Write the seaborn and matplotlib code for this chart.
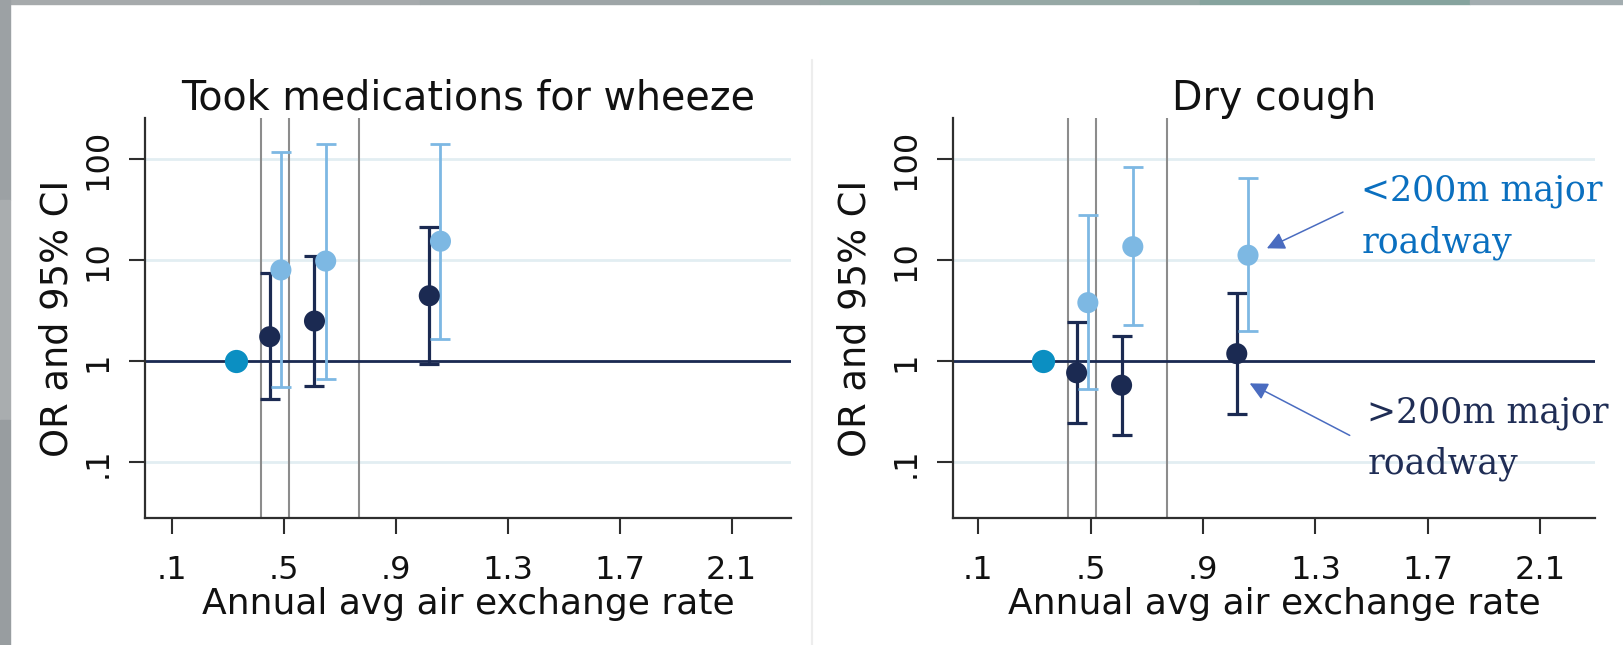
import matplotlib
matplotlib.use("Agg")
import matplotlib.pyplot as plt
from matplotlib.patches import Rectangle
from matplotlib.lines import Line2D
from matplotlib.ticker import NullLocator
import numpy as np
import pandas as pd
import seaborn as sns

# Air exchange rate groups (x positions) and reference-group position
x_reference = 0.33
cut_points = [0.42, 0.52, 0.77]
x_far = [0.45, 0.61, 1.02]
x_near = [0.49, 0.65, 1.06]

# Took medications for wheeze: odds ratios and 95% CI
wheeze_far_or = [1.75, 2.5, 4.45]
wheeze_far_lo = [0.42, 0.57, 0.93]
wheeze_far_hi = [7.5, 11.0, 21.4]
wheeze_near_or = [8.0, 9.8, 15.4]
wheeze_near_lo = [0.56, 0.67, 1.68]
wheeze_near_hi = [118.0, 140.0, 140.0]

# Dry cough: odds ratios and 95% CI
cough_far_or = [0.77, 0.58, 1.19]
cough_far_lo = [0.245, 0.185, 0.30]
cough_far_hi = [2.45, 1.78, 4.7]
cough_near_or = [3.8, 13.6, 11.2]
cough_near_lo = [0.53, 2.27, 2.0]
cough_near_hi = [27.9, 82.6, 64.4]

x_tick_values = [0.1, 0.5, 0.9, 1.3, 1.7, 2.1]
x_tick_labels = [".1", ".5", ".9", "1.3", "1.7", "2.1"]
y_tick_values = [0.1, 1, 10, 100]
y_tick_labels = [".1", "1", "10", "100"]

panel_titles = ["Took medications for wheeze", "Dry cough"]
x_title = "Annual avg air exchange rate"
y_title = "OR and 95% CI"

DARK = "#1b2a52"
LIGHT = "#7db8e3"
REF = "#0b8fc2"
GRID = "#e2eef2"
CUT = "#8c8c8c"
AXIS = "#2e2e2e"

sns.set_theme(style="white")
plt.rcParams["font.family"] = ["DejaVu Sans"]

W, H = 1624, 645
fig = plt.figure(figsize=(W / 100, H / 100), dpi=100)
fig.patch.set_facecolor("white")

# photo border showing along the top and left edges
for x0, x1, col in [(0, 420, "#a6aaac"), (420, 820, "#9ea5a7"), (820, 1200, "#96a8a5"),
                    (1200, 1470, "#86a39e"), (1470, 1624, "#a3adb0")]:
    fig.patches.append(Rectangle((x0 / W, 1 - 4 / H), (x1 - x0) / W, 4 / H,
                                 transform=fig.transFigure, color=col, zorder=0))
for y0, y1, col in [(0, 200, "#9ca1a4"), (200, 420, "#a9adaf"), (420, 645, "#989da0")]:
    fig.patches.append(Rectangle((0, 1 - y1 / H), 10 / W, (y1 - y0) / H,
                                 transform=fig.transFigure, color=col, zorder=0))
# faint seam between the two graphs
fig.lines.append(Line2D([812 / W, 812 / W], [0, 1 - 60 / H], transform=fig.transFigure,
                        color="#ededed", lw=1.6))

ax1 = fig.add_axes([145 / W, 1 - 518 / H, 646 / W, 400 / H])
ax2 = fig.add_axes([953 / W, 1 - 518 / H, 642 / W, 400 / H])

panels = [
    (ax1, (0.0046, 2.312), wheeze_far_or, wheeze_far_lo, wheeze_far_hi,
     wheeze_near_or, wheeze_near_lo, wheeze_near_hi, (57 - 145) / 646),
    (ax2, (0.010, 2.295), cough_far_or, cough_far_lo, cough_far_hi,
     cough_near_or, cough_near_lo, cough_near_hi, (855 - 953) / 642),
]

for i, (ax, xlim, f_or, f_lo, f_hi, n_or, n_lo, n_hi, ylab_x) in enumerate(panels):
    ax.set_yscale("log")
    ax.set_ylim(0.0282, 254.7)
    ax.set_xlim(*xlim)
    ax.set_facecolor("white")

    ax.grid(axis="y", which="major", color=GRID, lw=2.0, zorder=0)
    ax.grid(axis="x", visible=False)
    for c in cut_points:
        ax.axvline(c, color=CUT, lw=1.5, zorder=1)
    ax.axhline(1, color=DARK, lw=2.0, zorder=2)

    ax.errorbar(x_far, f_or, yerr=[np.subtract(f_or, f_lo), np.subtract(f_hi, f_or)],
                fmt="none", ecolor=DARK, elinewidth=2.3, capsize=7.2, capthick=2.3, zorder=3)
    ax.errorbar(x_near, n_or, yerr=[np.subtract(n_or, n_lo), np.subtract(n_hi, n_or)],
                fmt="none", ecolor=LIGHT, elinewidth=2.0, capsize=7.4, capthick=2.0, zorder=3)

    pts = pd.DataFrame({
        "x": [x_reference] + x_far + x_near,
        "or": [1.0] + f_or + n_or,
        "group": ["reference"] + ["far"] * 3 + ["near"] * 3,
    })
    sns.scatterplot(data=pts[pts.group != "reference"], x="x", y="or", hue="group",
                    palette={"far": DARK, "near": LIGHT}, s=230, linewidth=0,
                    legend=False, ax=ax, zorder=4)
    sns.scatterplot(data=pts[pts.group == "reference"], x="x", y="or", color=REF,
                    s=280, linewidth=0, legend=False, ax=ax, zorder=4)

    ax.yaxis.set_minor_locator(NullLocator())
    ax.set_xticks(x_tick_values)
    ax.set_xticklabels(x_tick_labels)
    ax.set_yticks(y_tick_values)
    ax.set_yticklabels(y_tick_labels, rotation=90, va="center")
    ax.tick_params(axis="both", which="major", length=11.5, width=1.5, color=AXIS,
                   labelsize=23, labelcolor="#111111", bottom=True, left=True)
    ax.tick_params(axis="x", pad=15)
    ax.tick_params(axis="y", pad=11)

    for side in ["top", "right"]:
        ax.spines[side].set_visible(False)
    for side in ["left", "bottom"]:
        ax.spines[side].set_color(AXIS)
        ax.spines[side].set_linewidth(1.6)

    ax.set_xlabel(x_title, fontsize=26, color="#111111", labelpad=1)
    ax.set_ylabel(y_title, fontsize=26.5, color="#111111")
    ax.yaxis.set_label_coords(ylab_x, 0.5)
    ax.yaxis.label.set_verticalalignment("center")
    ax.set_title(panel_titles[i], fontsize=28.5, color="#111111", pad=6)

# group labels with arrows on the dry cough panel
ax2.annotate("", xy=(1.127, 13.1), xytext=(1.398, 29.9),
             arrowprops=dict(arrowstyle="-|>,head_length=0.9,head_width=0.45",
                             color="#4a6cc0", lw=1.1, shrinkA=0, shrinkB=0))
ax2.annotate("", xy=(1.066, 0.605), xytext=(1.422, 0.185),
             arrowprops=dict(arrowstyle="-|>,head_length=0.9,head_width=0.45",
                             color="#4a6cc0", lw=1.1, shrinkA=0, shrinkB=0))
# va="baseline" pins the last line's baseline for two-line labels
ax2.text(1.463, 12.0, "<200m major\nroadway", family="DejaVu Serif", fontsize=25,
         color="#0a6fbf", ha="left", va="baseline", linespacing=1.62)
ax2.text(1.485, 0.078, ">200m major\nroadway", family="DejaVu Serif", fontsize=25,
         color="#1f2d55", ha="left", va="baseline", linespacing=1.62)

fig.savefig("out.png", dpi=100, facecolor=fig.get_facecolor())
